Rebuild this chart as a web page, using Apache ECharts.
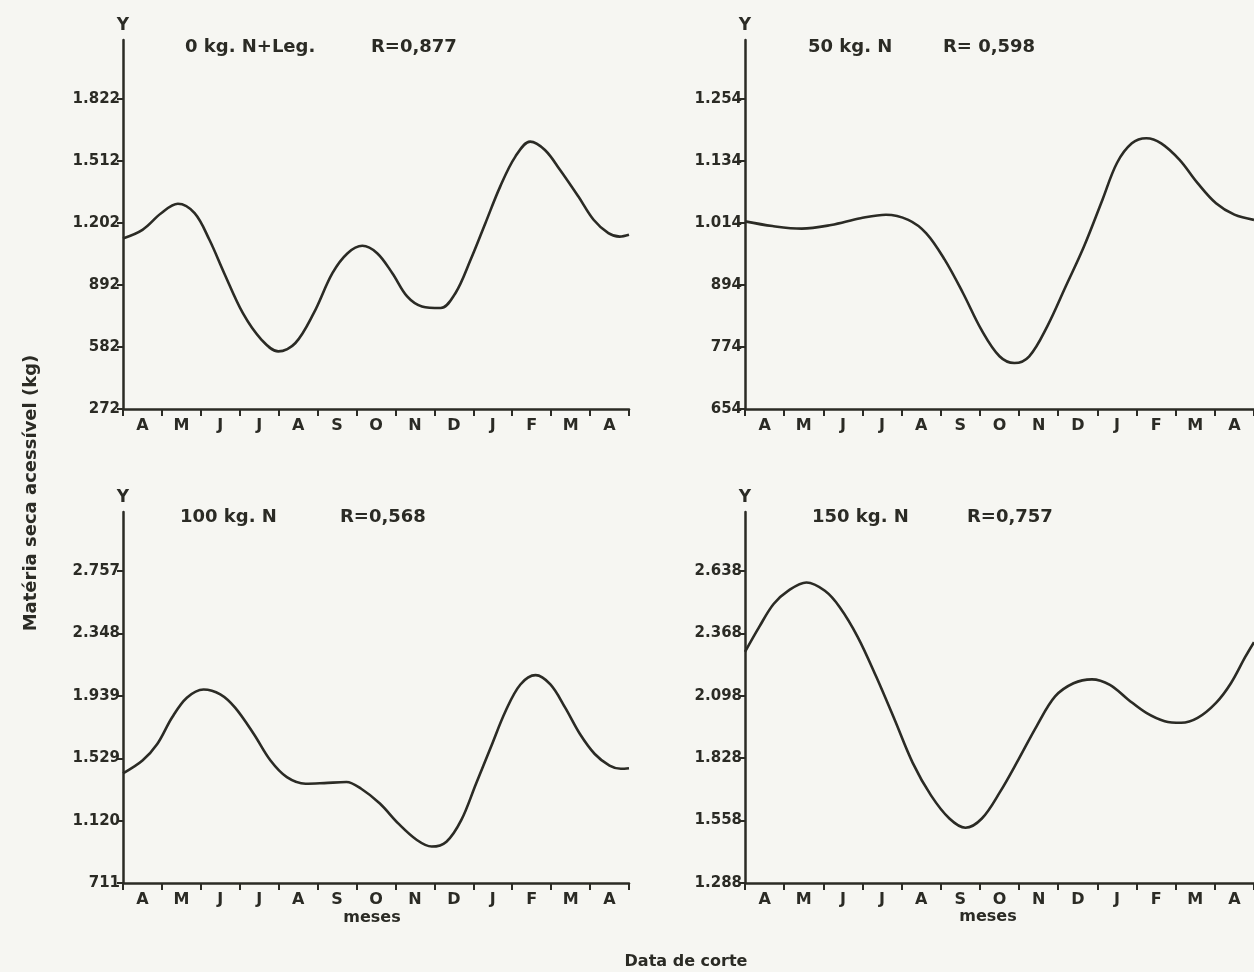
<!DOCTYPE html>
<html>
<head>
<meta charset="utf-8">
<script src="https://cdn.jsdelivr.net/npm/echarts@6/dist/echarts.min.js"></script>
<style>
html,body{margin:0;padding:0;background:#f6f6f2;}
#c{width:1254px;height:972px;}
</style>
</head>
<body>
<div id="c"></div>
<script>
// Month categories (April .. April)
const months = ['A','M','J','J','A','S','O','N','D','J','F','M','A'];

// Panel 1: 0 kg N + Leg.
const tA = [0, 0.5, 0.98, 1.41, 1.84, 2.22, 2.6, 3.08, 3.56, 3.99, 4.43, 4.9, 5.38, 5.77, 6.15, 6.53, 6.92, 7.3, 7.68, 8.16, 8.54, 8.93, 9.31, 9.69, 10.08, 10.46, 10.84, 11.23, 11.7, 12.09, 12.47, 12.76, 13];
const vA = [1125, 1168, 1251, 1298, 1251, 1118, 951, 751, 618, 560, 602, 751, 951, 1051, 1088, 1051, 951, 835, 785, 777, 851, 1018, 1201, 1384, 1534, 1609, 1567, 1467, 1334, 1218, 1151, 1134, 1143];
const ticksA = [272, 582, 892, 1202, 1512, 1822];
const labelsA = ['272', '582', '892', '1.202', '1.512', '1.822'];

// Panel 2: 50 kg N
const tB = [0, 0.7, 1.45, 2.2, 2.95, 3.6, 4.17, 4.63, 5.1, 5.57, 6.04, 6.5, 6.88, 7.26, 7.72, 8.19, 8.66, 9.13, 9.5, 9.88, 10.25, 10.63, 11.1, 11.56, 12.03, 12.5, 13];
const vB = [1017, 1008, 1003, 1010, 1023, 1030, 1020, 994, 943, 878, 807, 756, 743, 756, 814, 891, 969, 1059, 1130, 1168, 1178, 1168, 1136, 1091, 1052, 1030, 1020];
const ticksB = [654, 774, 894, 1014, 1134, 1254];
const labelsB = ['654', '774', '894', '1.014', '1.134', '1.254'];

// Panel 3: 100 kg N
const tC = [0, 0.5, 0.88, 1.26, 1.64, 2.07, 2.5, 2.88, 3.36, 3.79, 4.21, 4.69, 5.17, 5.74, 6.12, 6.6, 7.07, 7.55, 7.93, 8.31, 8.69, 9.07, 9.45, 9.83, 10.21, 10.6, 10.98, 11.36, 11.74, 12.12, 12.5, 12.79, 13];
const vC = [1430, 1514, 1622, 1796, 1926, 1980, 1948, 1861, 1688, 1514, 1405, 1362, 1366, 1373, 1329, 1232, 1102, 993, 950, 982, 1123, 1362, 1601, 1839, 2013, 2074, 2013, 1861, 1688, 1557, 1481, 1460, 1464];
const ticksC = [711, 1120, 1529, 1939, 2348, 2757];
const labelsC = ['711', '1.120', '1.529', '1.939', '2.348', '2.757'];

// Panel 4: 150 kg N
const tD = [0, 0.36, 0.73, 1.1, 1.57, 2.04, 2.42, 2.88, 3.35, 3.82, 4.28, 4.75, 5.22, 5.63, 6.05, 6.51, 6.99, 7.45, 7.92, 8.39, 8.86, 9.32, 9.79, 10.25, 10.72, 11.14, 11.56, 12.03, 12.41, 12.78, 13];
const vD = [2288, 2395, 2495, 2552, 2588, 2552, 2481, 2352, 2181, 1995, 1809, 1667, 1567, 1527, 1567, 1681, 1824, 1967, 2095, 2152, 2169, 2145, 2081, 2024, 1988, 1981, 2002, 2067, 2152, 2267, 2330];
const ticksD = [1288, 1558, 1828, 2098, 2368, 2638];
const labelsD = ['1.288', '1.558', '1.828', '2.098', '2.368', '2.638'];

const titles = [
  ['0 kg. N+Leg.', 'R=0,877'],
  ['50 kg. N', 'R= 0,598'],
  ['100 kg. N', 'R=0,568'],
  ['150 kg. N', 'R=0,757']
];

const INK = '#2b2b25';
const FONT = "'DejaVu Sans', sans-serif";

const panels = [
  {t: tA, v: vA, ticks: ticksA, labels: labelsA, max: 2117, grid: {left: 123, top: 40, width: 506, height: 369}},
  {t: tB, v: vB, ticks: ticksB, labels: labelsB, max: 1368, grid: {left: 745, top: 40, width: 512, height: 369}},
  {t: tC, v: vC, ticks: ticksC, labels: labelsC, max: 3144, grid: {left: 123, top: 512, width: 506, height: 371}},
  {t: tD, v: vD, ticks: ticksD, labels: labelsD, max: 2893, grid: {left: 745, top: 512, width: 512, height: 371}}
];

const monthPos = months.map((m, i) => i + 0.5);
const boundaryPos = months.map((m, i) => i).concat([months.length]);

const grids = [], xAxes = [], yAxes = [], series = [];
panels.forEach((p, i) => {
  grids.push(Object.assign({containLabel: false}, p.grid));
  xAxes.push({
    type: 'value', gridIndex: i, min: 0, max: months.length,
    splitLine: {show: false},
    axisLine: {show: true, onZero: false, lineStyle: {color: INK, width: 2.5}},
    axisTick: {show: true, customValues: boundaryPos, length: 7, lineStyle: {color: INK, width: 2}},
    axisLabel: {
      show: true, customValues: monthPos, margin: 9,
      formatter: (val) => months[Math.floor(val)],
      color: INK, fontSize: 16, fontWeight: 'bold', fontFamily: FONT
    }
  });
  yAxes.push({
    type: 'value', gridIndex: i, min: p.ticks[0], max: p.max,
    name: 'Y', nameLocation: 'end', nameGap: 6,
    nameTextStyle: {color: INK, fontSize: 17, fontWeight: 'bold', fontFamily: FONT, align: 'center'},
    splitLine: {show: false},
    axisLine: {show: true, lineStyle: {color: INK, width: 2.5}},
    axisTick: {show: true, customValues: p.ticks, length: 6, lineStyle: {color: INK, width: 2}},
    axisLabel: {
      show: true, customValues: p.ticks, margin: 3,
      formatter: (val) => p.labels[p.ticks.indexOf(val)],
      color: INK, fontSize: 15, fontWeight: 'bold', fontFamily: FONT
    }
  });
  series.push({
    type: 'line', xAxisIndex: i, yAxisIndex: i,
    data: p.t.map((t, k) => [t, p.v[k]]),
    smooth: 0.35, showSymbol: false, symbol: 'none',
    lineStyle: {color: INK, width: 2.6},
    silent: true, animation: false
  });
});

const titlePos = [
  [[185, 47], [371, 47]],
  [[808, 47], [943, 47]],
  [[180, 517], [340, 517]],
  [[812, 517], [967, 517]]
];

const TFONT = "bold 18px 'DejaVu Sans', sans-serif";
const graphics = [];
titles.forEach((tt, i) => {
  tt.forEach((txt, j) => {
    graphics.push({
      type: 'text', x: titlePos[i][j][0], y: titlePos[i][j][1],
      style: {text: txt, font: TFONT, fill: INK, textVerticalAlign: 'middle', textAlign: 'left'}
    });
  });
});
graphics.push({
  type: 'text', x: 31, y: 493, rotation: Math.PI / 2,
  style: {text: 'Matéria seca acessível (kg)', font: "bold 18px 'DejaVu Sans', sans-serif", fill: INK, textAlign: 'center', textVerticalAlign: 'middle'}
});
graphics.push({
  type: 'text', x: 372, y: 918,
  style: {text: 'meses', font: "bold 16px 'DejaVu Sans', sans-serif", fill: INK, textAlign: 'center', textVerticalAlign: 'middle'}
});
graphics.push({
  type: 'text', x: 988, y: 917,
  style: {text: 'meses', font: "bold 16px 'DejaVu Sans', sans-serif", fill: INK, textAlign: 'center', textVerticalAlign: 'middle'}
});
graphics.push({
  type: 'text', x: 686, y: 962,
  style: {text: 'Data de corte', font: "bold 16px 'DejaVu Sans', sans-serif", fill: INK, textAlign: 'center', textVerticalAlign: 'middle'}
});

const chart = echarts.init(document.getElementById('c'), null, {renderer: 'canvas'});
chart.setOption({
  backgroundColor: '#f6f6f2',
  animation: false,
  grid: grids,
  xAxis: xAxes,
  yAxis: yAxes,
  series: series,
  graphic: graphics
});
</script>
</body>
</html>
